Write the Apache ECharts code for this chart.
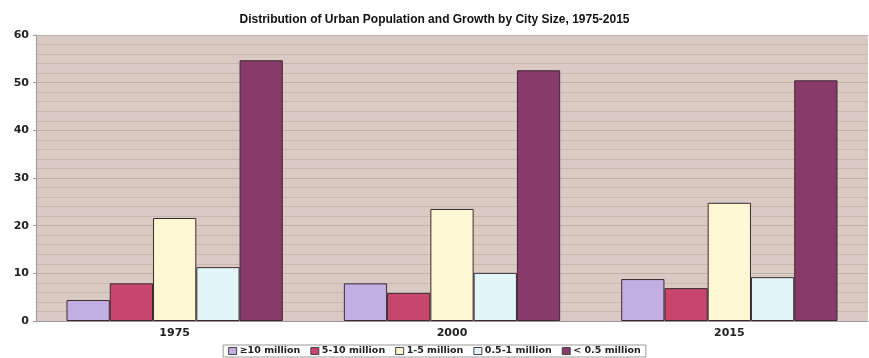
<!DOCTYPE html>
<html>
<head>
<meta charset="utf-8">
<script src="https://cdn.jsdelivr.net/npm/echarts@6/dist/echarts.min.js"></script>
<style>
  html, body { margin: 0; padding: 0; background: #fff; }
  #chart { width: 869px; height: 358px; }
</style>
</head>
<body>
<div id="chart"></div>
<script>
// Share of urban population by city-size class (%)
const years = ['1975', '2000', '2015'];
const sizeClasses = ['\u226510 million', '5-10 million', '1-5 million', '0.5-1 million', '< 0.5 million'];
const over10m = [4.4, 7.9, 8.8];
const from5to10m = [7.9, 5.9, 6.9];
const from1to5m = [21.6, 23.5, 24.8];
const from05to1m = [11.3, 10.1, 9.2];
const under05m = [54.7, 52.6, 50.5];
const yTicks = [0, 10, 20, 30, 40, 50, 60];

const classValues = [over10m, from5to10m, from1to5m, from05to1m, under05m];
const classColors = ['#c2aee2', '#c8466e', '#fff8d2', '#e2f6fa', '#883a6a'];

const chart = echarts.init(document.getElementById('chart'));
chart.setOption({
  animation: false,
  backgroundColor: '#ffffff',
  title: {
    text: 'Distribution of Urban Population and Growth by City Size, 1975-2015',
    left: 'center',
    top: 9,
    textStyle: { fontFamily: 'Liberation Sans', fontWeight: 'bold', fontSize: 12, color: '#111' }
  },
  grid: { left: 36, right: 1, top: 35, bottom: 37, show: true, backgroundColor: '#dacac3', borderWidth: 0 },
  legend: {
    bottom: 1,
    left: 'center',
    icon: 'rect',
    itemWidth: 8,
    itemHeight: 7,
    itemGap: 10,
    padding: [1, 5],
    borderColor: '#999',
    borderWidth: 1,
    itemStyle: { borderColor: '#444', borderWidth: 1 },
    textStyle: { fontFamily: 'DejaVu Sans', fontWeight: 'bold', fontSize: 9.5, color: '#222', padding: [0, 0, 0, -2] },
    data: sizeClasses
  },
  xAxis: {
    type: 'category',
    data: years,
    axisLine: { show: true, lineStyle: { color: '#999' } },
    axisTick: { show: false },
    axisLabel: { fontFamily: 'DejaVu Sans', fontWeight: 'bold', fontSize: 11, color: '#222', margin: 7 }
  },
  yAxis: {
    type: 'value',
    min: yTicks[0],
    max: yTicks[yTicks.length - 1],
    interval: 10,
    axisLine: { show: true, lineStyle: { color: '#999' } },
    axisTick: { show: true, length: 3, lineStyle: { color: '#999' } },
    axisLabel: { fontFamily: 'DejaVu Sans', fontWeight: 'bold', fontSize: 11, color: '#222', margin: 7 },
    splitLine: { show: true, lineStyle: { color: '#c2b1a9', width: 1 } },
    minorTick: { show: false, splitNumber: 5 },
    minorSplitLine: { show: true, lineStyle: { color: '#c8b7af', width: 1 } }
  },
  series: sizeClasses.map((name, i) => ({
    name: name,
    type: 'bar',
    data: classValues[i],
    barGap: '0%',
    barCategoryGap: '22%',
    itemStyle: { color: classColors[i], borderColor: '#3a2a30', borderWidth: 1 }
  }))
});
</script>
</body>
</html>
